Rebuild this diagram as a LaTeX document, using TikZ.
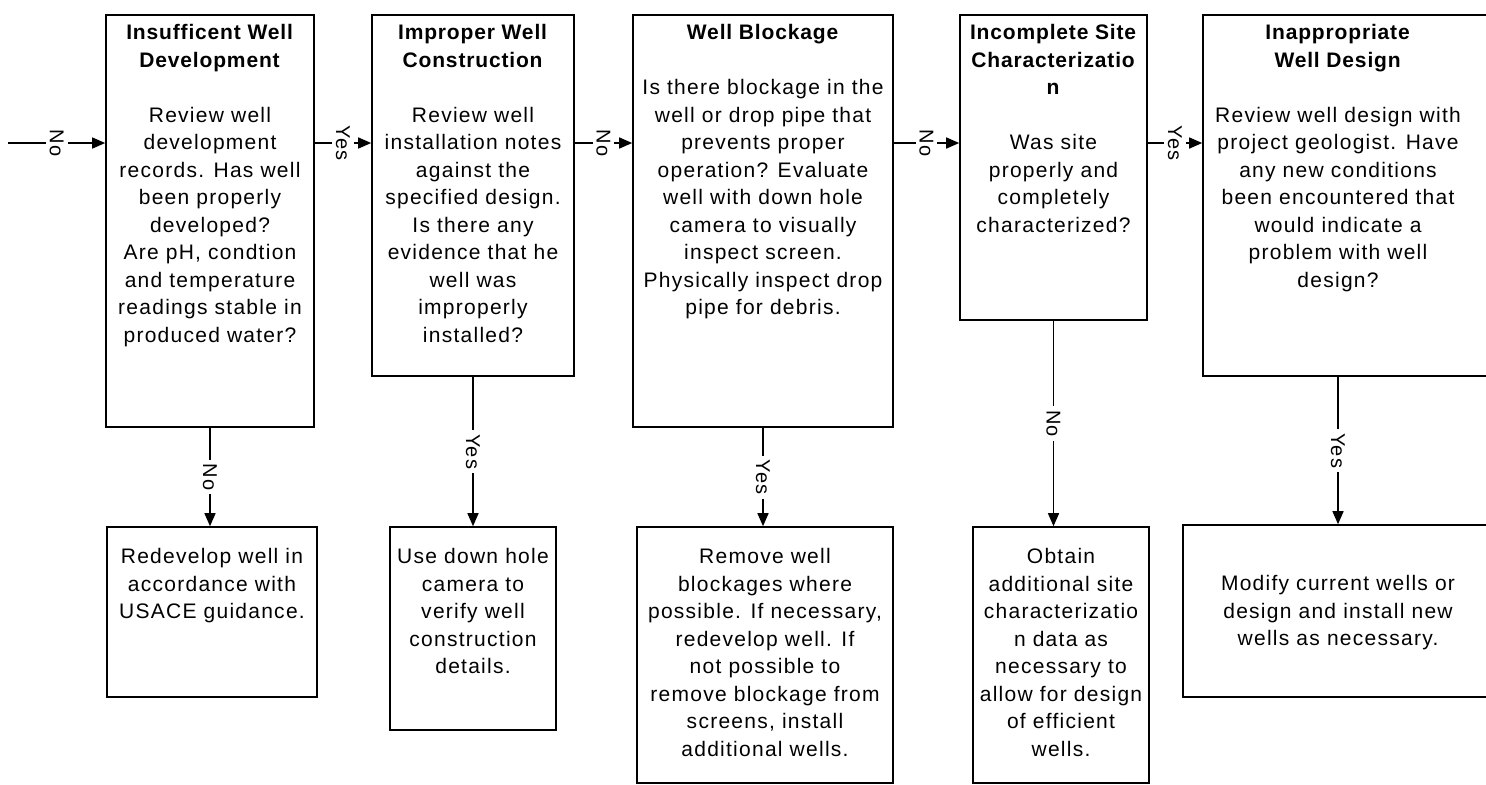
\documentclass[tikz,border=0pt]{standalone}
\usepackage{fontspec}
\setmainfont{Liberation Sans}[LetterSpace=6,BoldFeatures={LetterSpace=4}]
\usetikzlibrary{arrows.meta}
\begin{document}
\begin{tikzpicture}[x=0.5pt,y=-0.5pt,
  box/.style={draw, rectangle, line width=0.8pt, inner sep=0pt},
  txt/.style={align=center, inner sep=0pt, anchor=north, font=\fontsize{10.5}{13.75}\selectfont},
  lbl/.style={rotate=-90, fill=white, inner sep=2pt, font=\fontsize{10}{12}\selectfont},
  arr/.style={line width=0.7pt, -{Triangle[length=6.5pt,width=5.5pt]}}]
\fill[white] (0,0) rectangle (1486,784);
\useasboundingbox (0,0) rectangle (1486,784);
% top boxes
\node[box, minimum width=104pt, minimum height=206pt] (b1) at (210,221) {};
\node[box, minimum width=101pt, minimum height=180.5pt] (b2) at (473,195.5) {};
\node[box, minimum width=130pt, minimum height=206pt] (b3) at (763,221) {};
\node[box, minimum width=93.5pt, minimum height=152.5pt] (b4) at (1053.5,167.5) {};
\node[box, minimum width=144.5pt, minimum height=180.5pt] (b5) at (1347.5,195.5) {};
% bottom boxes
\node[box, minimum width=105pt, minimum height=85pt] (c1) at (212,612) {};
\node[box, minimum width=83pt, minimum height=101.5pt] (c2) at (473,628.5) {};
\node[box, minimum width=128pt, minimum height=128pt] (c3) at (765,655) {};
\node[box, minimum width=88pt, minimum height=128pt] (c4) at (1061,655) {};
\node[box, minimum width=155pt, minimum height=86pt] (c5) at (1338,611) {};
% texts top
\node[txt] (t1) at (210,24) {\textbf{Insufficent Well}\\\textbf{Development}\\\strut\\Review well\\development\\records.  Has well\\been properly\\developed?\\Are pH, condtion\\and temperature\\readings stable in\\produced water?};
\node[txt] (t2) at (473,24) {\textbf{Improper Well}\\\textbf{Construction}\\\strut\\Review well\\installation notes\\against the\\specified design.\\Is there any\\evidence that he\\well was\\improperly\\installed?};
\node[txt] (t3) at (763,24) {\textbf{Well Blockage}\\\strut\\Is there blockage in the\\well or drop pipe that\\prevents proper\\operation?  Evaluate\\well with down hole\\camera to visually\\inspect screen.\\Physically inspect drop\\pipe for debris.};
\node[txt] (t4) at (1053.5,24) {\textbf{Incomplete Site}\\\textbf{Characterizatio}\\\textbf{n}\\\strut\\Was site\\properly and\\completely\\characterized?};
\node[txt] (t5) at (1338,24) {\textbf{Inappropriate}\\\textbf{Well Design}\\\strut\\Review well design with\\project geologist.  Have\\any new conditions\\been encountered that\\would indicate a\\problem with well\\design?};
% texts bottom
\node[txt] (u1) at (212,548) {Redevelop well in\\accordance with\\USACE guidance.};
\node[txt] (u2) at (473,548) {Use down hole\\camera to\\verify well\\construction\\details.};
\node[txt] (u3) at (765,548) {Remove well\\blockages where\\possible. If necessary,\\redevelop well.  If\\not possible to\\remove blockage from\\screens, install\\additional wells.};
\node[txt] (u4) at (1061,548) {Obtain\\additional site\\characterizatio\\n data as\\necessary to\\allow for design\\of efficient\\wells.};
\node[txt] (u5) at (1338,575) {Modify current wells or\\design and install new\\wells as necessary.};
% connectors
\coordinate (row) at (0,143);
\coordinate (start) at (8,143);
\draw[arr] (start) -- node[lbl] (l0) {No} (b1.west |- row);
\draw[arr] (b1.east |- row) -- node[lbl] (l1) {Yes} (b2.west |- row);
\draw[arr] (b2.east |- row) -- node[lbl] (l2) {No} (b3.west |- row);
\draw[arr] (b3.east |- row) -- node[lbl] (l3) {No} (b4.west |- row);
\draw[arr] (b4.east |- row) -- node[lbl] (l4) {Yes} (b5.west |- row);
\draw[arr] (b1.south) -- node[lbl] (m1) {No} (b1.south |- c1.north);
\draw[arr] (b2.south) -- node[lbl] (m2) {Yes} (b2.south |- c2.north);
\draw[arr] (b3.south) -- node[lbl] (m3) {Yes} (b3.south |- c3.north);
\draw[arr] (b4.south) -- node[lbl] (m4) {No} (b4.south |- c4.north);
\draw[arr] (c5.north |- b5.south) -- node[lbl] (m5) {Yes} (c5.north);
\end{tikzpicture}
\end{document}
